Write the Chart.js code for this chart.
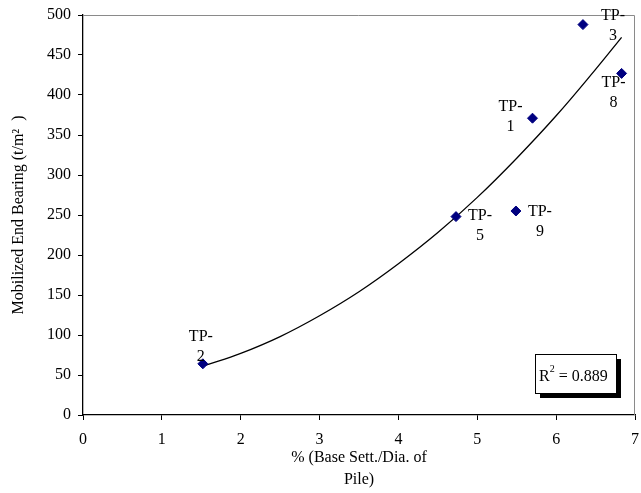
<!DOCTYPE html>
<html>
<head>
<meta charset="utf-8">
<script src="https://cdn.jsdelivr.net/npm/chart.js@4.4.1/dist/chart.umd.min.js"></script>
<style>
  body { margin: 0; background: #fff; }
  #wrap { width: 641px; height: 493px; }
</style>
</head>
<body>
<div id="wrap"><canvas id="bearingChart"></canvas></div>
<script>
// test piles
const pileNames = ["TP-2", "TP-5", "TP-9", "TP-1", "TP-3", "TP-8"];
const settlement = [1.52, 4.73, 5.49, 5.70, 6.34, 6.83];
const endBearing = [64, 248, 255, 371, 488, 427];

// trend line as drawn in the picture
const trendX = [1.55, 2, 2.5, 3, 3.5, 4, 4.5, 5, 5.5, 6, 6.5, 6.83];
const trendY = [62, 77, 98, 124, 154, 189, 228, 272, 321, 374, 432, 472];

const rSquared = "0.889";

const serif = "'Liberation Serif', 'Times New Roman', serif";

// where each "TP-" label sits relative to its point (px)
const labelOffsets = [[-2, -27], [24, -1], [24, 1], [-22, -11], [30, -9], [-8, 9]];

const pileLabels = {
  id: "pileLabels",
  afterDatasetsDraw(chart) {
    const ctx = chart.ctx;
    const meta = chart.getDatasetMeta(0);
    ctx.save();
    ctx.font = "16px " + serif;
    ctx.fillStyle = "#000";
    ctx.textAlign = "center";
    ctx.textBaseline = "middle";
    meta.data.forEach((pt, i) => {
      const [dx, dy] = labelOffsets[i];
      const parts = pileNames[i].split("-");
      ctx.fillText(parts[0] + "-", pt.x + dx, pt.y + dy);
      ctx.fillText(parts[1], pt.x + dx, pt.y + dy + 20);
    });
    ctx.restore();
  }
};

const frameAndBox = {
  id: "frameAndBox",
  beforeDatasetsDraw(chart) {
    const { ctx, chartArea: a } = chart;
    ctx.save();
    ctx.strokeStyle = "#8a8a8a";
    ctx.lineWidth = 1;
    ctx.beginPath();
    ctx.moveTo(a.left, a.top + 0.5);
    ctx.lineTo(a.right - 0.5, a.top + 0.5);
    ctx.lineTo(a.right - 0.5, a.bottom);
    ctx.stroke();
    ctx.restore();
  },
  afterDraw(chart) {
    const { ctx, chartArea: a } = chart;
    const w = 81, h = 39;
    const x = a.right - 100, y = a.bottom - 61;
    ctx.save();
    ctx.fillStyle = "#000";
    ctx.fillRect(x + 5, y + 5, w, h);
    ctx.fillStyle = "#fff";
    ctx.fillRect(x, y, w, h);
    ctx.strokeStyle = "#000";
    ctx.lineWidth = 1;
    ctx.strokeRect(x + 0.5, y + 0.5, w, h);
    ctx.fillStyle = "#000";
    ctx.textBaseline = "alphabetic";
    ctx.textAlign = "left";
    ctx.font = "16px " + serif;
    ctx.fillText("R", x + 4, y + 27);
    const rw = ctx.measureText("R").width;
    ctx.font = "10px " + serif;
    ctx.fillText("2", x + 4 + rw, y + 18);
    ctx.font = "16px " + serif;
    ctx.fillText(" = " + rSquared, x + 4 + rw + 5, y + 27);
    ctx.restore();
  }
};

const ctx = document.getElementById("bearingChart").getContext("2d");
const bearingChart = new Chart(ctx, {
  type: "scatter",
  data: {
    datasets: [
      {
        label: "Test piles",
        data: settlement.map((x, i) => ({ x: x, y: endBearing[i] })),
        pointStyle: "rectRot",
        pointRadius: 5,
        backgroundColor: "#000080",
        borderColor: "#000080",
        borderWidth: 1
      },
      {
        label: "Trend",
        data: trendX.map((x, i) => ({ x: x, y: trendY[i] })),
        showLine: true,
        tension: 0.4,
        pointRadius: 0,
        borderColor: "#000",
        borderWidth: 1.3,
        fill: false
      }
    ]
  },
  options: {
    responsive: true,
    maintainAspectRatio: false,
    animation: false,
    layout: { padding: { top: 15, right: 1, left: 0, bottom: 0 } },
    plugins: {
      legend: { display: false },
      tooltip: { enabled: false }
    },
    scales: {
      x: {
        type: "linear",
        min: 0,
        max: 7,
        ticks: { stepSize: 1, color: "#000", padding: 10, font: { family: serif, size: 16 } },
        grid: { drawOnChartArea: false, color: "#000", tickLength: 5 },
        border: { color: "#000", width: 1.3 },
        title: {
          display: true,
          text: ["% (Base Sett./Dia. of", "Pile)"],
          color: "#000",
          font: { family: serif, size: 16, lineHeight: 1.375 },
          padding: { top: 0, bottom: 2 }
        },
        afterFit(scale) {
          scale.height = 78;
          scale.paddingLeft = 0;
          scale.paddingRight = 0;
        }
      },
      y: {
        min: 0,
        max: 500,
        ticks: { stepSize: 50, color: "#000", padding: 7, font: { family: serif, size: 16 } },
        grid: { drawOnChartArea: false, color: "#000", tickLength: 5 },
        border: { color: "#000", width: 1.3 },
        title: {
          display: true,
          text: "Mobilized End Bearing (t/m\u00B2  )",
          color: "#000",
          font: { family: serif, size: 16 },
          padding: { top: 9, bottom: 0 }
        },
        afterFit(scale) {
          scale.width = 83;
          scale.paddingTop = 0;
          scale.paddingBottom = 0;
        }
      }
    }
  },
  plugins: [pileLabels, frameAndBox]
});
</script>
</body>
</html>
